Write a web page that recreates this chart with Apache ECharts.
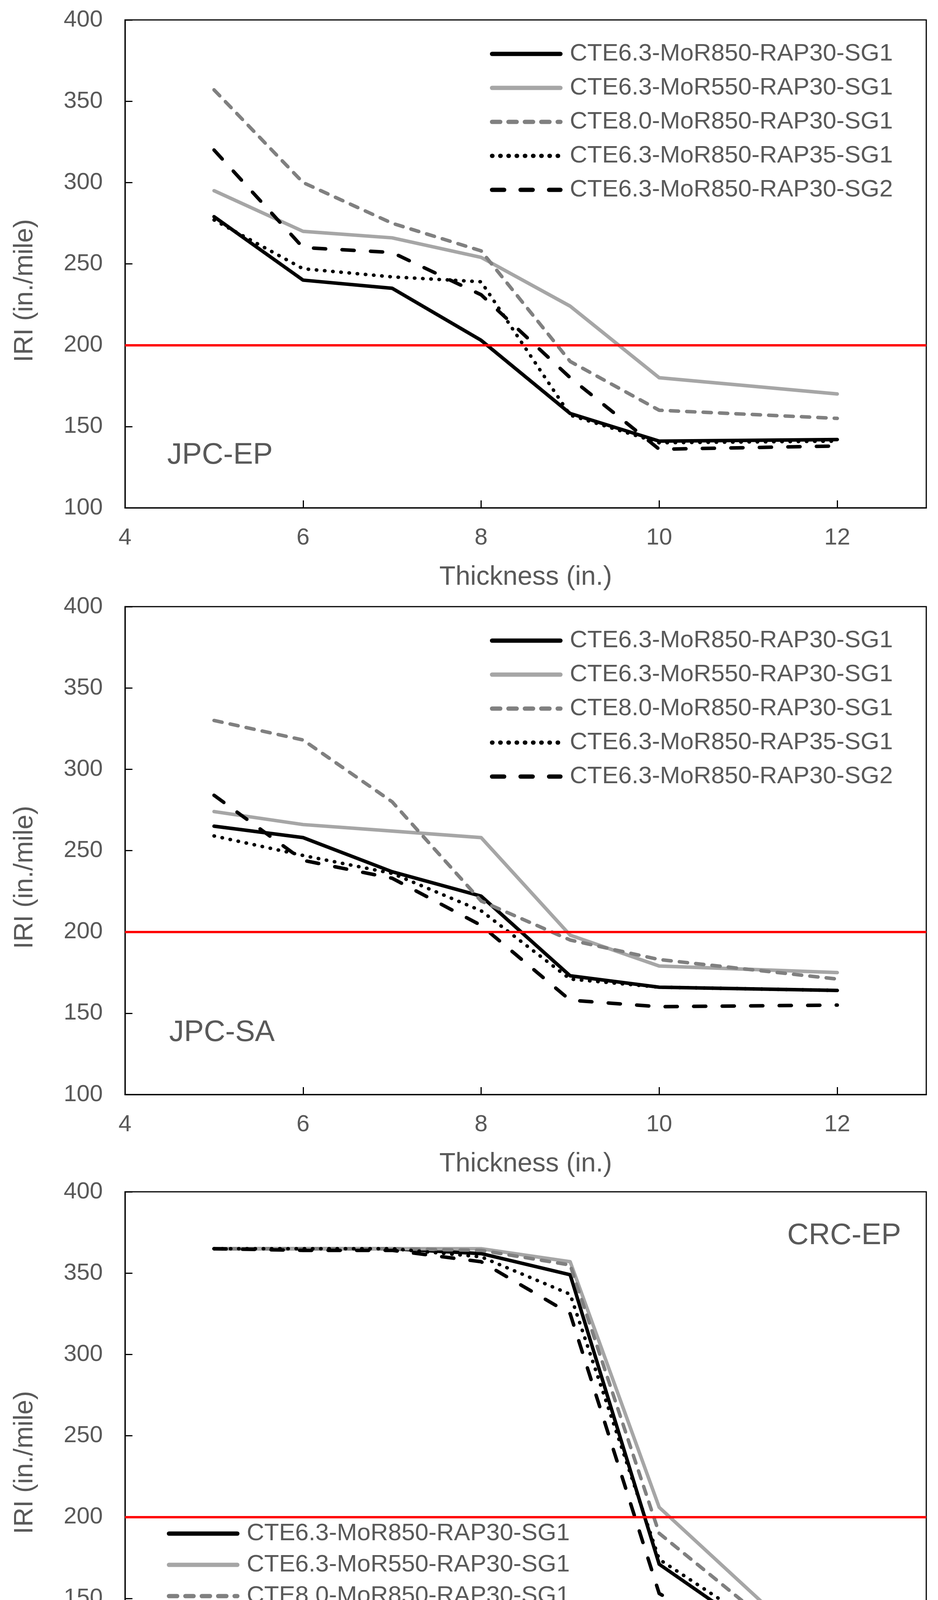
<!DOCTYPE html>
<html>
<head>
<meta charset="utf-8">
<script src="https://cdn.jsdelivr.net/npm/echarts@6/dist/echarts.min.js"></script>
<style>
  html, body { margin: 0; padding: 0; background: #fff; }
  #chart { width: 2401px; height: 4528px; }
</style>
</head>
<body>
<div id="chart"></div>
<script>
// slab thickness (in.)
const thickness = [5, 6, 7, 8, 9, 10, 12];
const seriesNames = [
  'CTE6.3-MoR850-RAP30-SG1',
  'CTE6.3-MoR550-RAP30-SG1',
  'CTE8.0-MoR850-RAP30-SG1',
  'CTE6.3-MoR850-RAP35-SG1',
  'CTE6.3-MoR850-RAP30-SG2'
];
// IRI (in./mile), one row per series, same order as seriesNames
const jpcEpIri = [
  [279, 240, 235, 203, 158, 141, 142],
  [295, 270, 266, 254, 224, 180, 170],
  [357, 300, 275, 258, 190, 160, 155],
  [277, 247, 242, 239, 157, 140, 141],
  [320, 260, 257, 231, 180, 136, 138]
];
const jpcSaIri = [
  [265, 258, 237, 222, 173, 166, 164],
  [274, 266, 262, 258, 198, 179, 175],
  [330, 318, 280, 219, 195, 183, 171],
  [259, 247, 236, 213, 171, 166, 164],
  [284, 244, 233, 204, 158, 154, 155]
];
const crcEpIri = [
  [365, 365, 365, 362, 349, 171, 95],
  [365, 365, 365, 365, 357, 206, 105],
  [365, 365, 365, 364, 355, 190, 101],
  [365, 365, 365, 360, 337, 174, 102],
  [365, 364, 364, 357, 325, 153, 92]
];
const panelNames = ['JPC-EP', 'JPC-SA', 'CRC-EP'];
const iriLimit = 200;
const xRange = [4, 13], xStep = 2;
const yRange = [100, 400], yStep = 50;

const FONT = '"Liberation Sans", Arial, sans-serif';
const TXT = '#595959';
const panels = [jpcEpIri, jpcSaIri, crcEpIri];
const tops = [51, 1553, 3051];
const plotH = 1249;

const looks = [
  {color: '#000000', type: 'solid'},
  {color: '#A6A6A6', type: 'solid'},
  {color: '#808080', type: [21, 21]},
  {color: '#000000', type: [1, 20]},
  {color: '#000000', type: [31, 42]}
];

const legendPos = [
  {left: 1254, top: 107, gap: 25},
  {left: 1254, top: 1609, gap: 25},
  {left: 427, top: 3895, gap: 18}
];
const labelPos = [[428, 1166], [433, 2644], [2015, 3164]];

let series = [];
panels.forEach((rows, p) => {
  rows.forEach((vals, s) => {
    let sr = {
      type: 'line',
      name: seriesNames[s],
      xAxisIndex: p,
      yAxisIndex: p,
      data: thickness.map((t, i) => [t, vals[i]]),
      symbol: 'none',
      clip: true,
      lineStyle: {color: looks[s].color, width: 9, type: looks[s].type, cap: 'round', join: 'round'}
    };
    if (s === rows.length - 1) {
      sr.markLine = {
        silent: true,
        symbol: ['none', 'none'],
        label: {show: false},
        lineStyle: {color: '#FF0000', width: 6, type: 'solid'},
        data: [{yAxis: iriLimit}]
      };
    }
    series.push(sr);
  });
});

let option = {
  animation: false,
  backgroundColor: '#ffffff',
  grid: tops.map(top => ({
    left: 320, top: top, width: 2051, height: plotH,
    show: true, borderColor: '#000', borderWidth: 3,
    outerBoundsMode: 'none'
  })),
  xAxis: tops.map((t, i) => ({
    type: 'value', gridIndex: i,
    min: xRange[0], max: xRange[1], interval: xStep,
    axisLine: {show: true, onZero: false, lineStyle: {color: '#000', width: 3}},
    axisTick: {show: true, inside: true, length: 19, lineStyle: {color: '#000', width: 3}},
    axisLabel: {color: TXT, fontSize: 60, fontFamily: FONT, margin: 47, showMaxLabel: false},
    splitLine: {show: false},
    name: 'Thickness (in.)', nameLocation: 'middle', nameGap: 144,
    nameTextStyle: {color: TXT, fontSize: 68, fontFamily: FONT}
  })),
  yAxis: tops.map((t, i) => ({
    type: 'value', gridIndex: i,
    min: yRange[0], max: yRange[1], interval: yStep,
    axisLine: {show: true, onZero: false, lineStyle: {color: '#000', width: 3}},
    axisTick: {show: true, inside: true, length: 19, lineStyle: {color: '#000', width: 3}},
    axisLabel: {color: TXT, fontSize: 60, fontFamily: FONT, margin: 57},
    splitLine: {show: false}
  })),
  legend: legendPos.map(lp => ({
    orient: 'vertical', left: lp.left, top: lp.top, padding: 0,
    itemWidth: 175, itemHeight: 20, itemGap: lp.gap,
    selectedMode: false,
    data: seriesNames,
    itemStyle: {opacity: 0},
    lineStyle: {width: 11},
    textStyle: {color: TXT, fontSize: 62, fontFamily: FONT, lineHeight: 62, padding: [0, 0, 0, 19]}
  })),
  graphic: [
    ...panelNames.map((txt, i) => ({
      type: 'text', x: labelPos[i][0], y: labelPos[i][1],
      style: {text: txt, fill: TXT, font: '76px ' + FONT,
        align: 'left', verticalAlign: 'middle', textAlign: 'left', textVerticalAlign: 'middle'}
    })),
    ...tops.map(top => ({
      type: 'text', x: 64, y: top + 693, rotation: Math.PI / 2,
      style: {text: 'IRI (in./mile)', fill: TXT, font: '68px ' + FONT,
        align: 'center', verticalAlign: 'middle', textAlign: 'center', textVerticalAlign: 'middle'}
    }))
  ],
  series: series
};

let chart = echarts.init(document.getElementById('chart'));
chart.setOption(option);
</script>
</body>
</html>
